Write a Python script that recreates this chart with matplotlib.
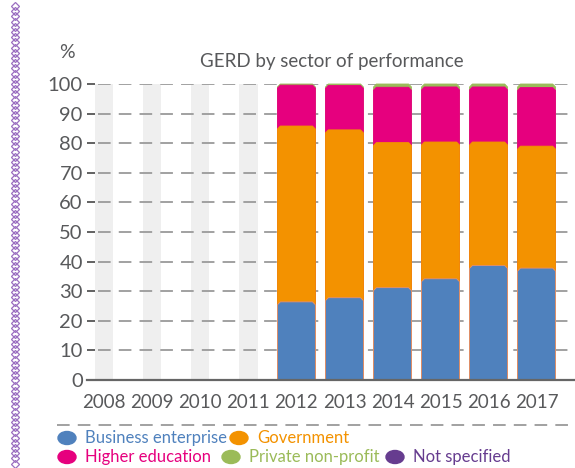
import numpy as np
import matplotlib
matplotlib.use("Agg")
import matplotlib.pyplot as plt
from matplotlib.patches import Polygon, Ellipse
from matplotlib.lines import Line2D

plt.rcParams['font.family'] = ['Lato', 'DejaVu Sans']

years = ['2008', '2009', '2010', '2011', '2012', '2013', '2014', '2015', '2016', '2017']
business = [0, 0, 0, 0, 26.4, 27.8, 31.2, 34.2, 38.7, 37.8]
government = [0, 0, 0, 0, 59.4, 56.7, 49.0, 46.2, 41.7, 41.2]
higher_ed = [0, 0, 0, 0, 13.8, 15.0, 18.7, 18.6, 18.6, 19.8]
private_np = [0, 0, 0, 0, 0.4, 0.5, 1.1, 1.0, 1.0, 1.2]
not_spec = [0, 0, 0, 0, 0, 0, 0, 0, 0, 0]
no_data = [1, 1, 1, 1, 0, 0, 0, 0, 0, 0]

series = [("Business enterprise", business, "#4f81bd"),
          ("Government", government, "#f39200"),
          ("Higher education", higher_ed, "#e6007e"),
          ("Private non-profit", private_np, "#9bbb59"),
          ("Not specified", not_spec, "#663c8f")]

txt = "#58595b"
fig = plt.figure(figsize=(5.75, 4.68), dpi=100)
ax = fig.add_axes([87/575, 1-380/468, 1-87/575, (380-84)/468])
x = np.arange(len(years))
ax.set_xlim(-0.36, 9.8)
ax.set_ylim(0, 100)

# grey bands for years without data
for xi, nd in zip(x, no_data):
    if nd:
        ax.bar(xi, 100, width=0.38, color="#efefef", zorder=0)

# dashed gridlines (start after the tick mark)
ax.hlines(range(10, 101, 10), -0.14, 9.8, colors="#9a9a9a", lw=1.3,
          linestyles=(0, (7, 4.5)), zorder=1)

# stacked bars with chamfered tops, drawn from total down
w = 0.79
dx, dy = 0.06, 1.0
cum = np.cumsum([s[1] for s in series], axis=0)
for i in range(len(series) - 1, -1, -1):
    color = series[i][2]
    for xi, top in zip(x, cum[i]):
        seg = top - (cum[i-1][xi] if i > 0 else 0)
        if seg <= 0:
            continue
        x0, x1 = xi - w/2, xi + w/2
        pts = [(x0, 0), (x0, top - dy), (x0 + dx, top), (x1 - dx, top),
               (x1, top - dy), (x1, 0)]
        ax.add_patch(Polygon(pts, closed=True, facecolor=color,
                             edgecolor="#e8906a" if i == 0 else color,
                             lw=0.6, zorder=2 + (len(series) - i) * 0.01,
                             clip_on=False))

ax.set_yticks(range(0, 101, 10))
ax.set_xticks(x)
ax.set_xticklabels(years)
ax.tick_params(axis='y', direction='in', length=6, width=1.3,
               color="#555555", labelsize=14.5, labelcolor=txt, pad=3)
ax.tick_params(axis='x', length=0, labelsize=13.5, labelcolor=txt, pad=10)
for s in ['left', 'right', 'top']:
    ax.spines[s].set_visible(False)
ax.spines['bottom'].set_color("#666666")
ax.spines['bottom'].set_linewidth(1.6)
ax.spines['bottom'].set_zorder(5)

fig.text(67/575, 1-53/468, "%", fontsize=14, color=txt, ha='center', va='center')
fig.text(332/575, 1-62/468, "GERD by sector of performance", fontsize=13.5,
         color=txt, ha='center', va='center')

# dashed separator below x labels
fig.add_artist(Line2D([57/575, 1.0], [1-425/468]*2, color="#9a9a9a", lw=1.3,
                      linestyle=(0, (7, 4.5))))

# legend
rows = [[(0, 58), (1, 230)], [(2, 58), (3, 222), (4, 386)]]
ys = [438, 457]
for row, yy in zip(rows, ys):
    for idx, px in row:
        name, _, color = series[idx]
        fig.add_artist(Ellipse((px/575 + 9/575, 1-yy/468), 18/575, 13/468,
                               color=color))
        fig.text(px/575 + 27/575, 1-yy/468, name, fontsize=12, color=color,
                 ha='left', va='center')

# decorative purple chain on the left
yy = np.arange(6, 468, 5.2)
fig.add_artist(Line2D([15/575]*len(yy), 1-yy/468, ls='none', marker='D',
                      markersize=3.6, mfc='none', mec="#9b6fc0", mew=0.9))

fig.savefig("out.png", dpi=100)
